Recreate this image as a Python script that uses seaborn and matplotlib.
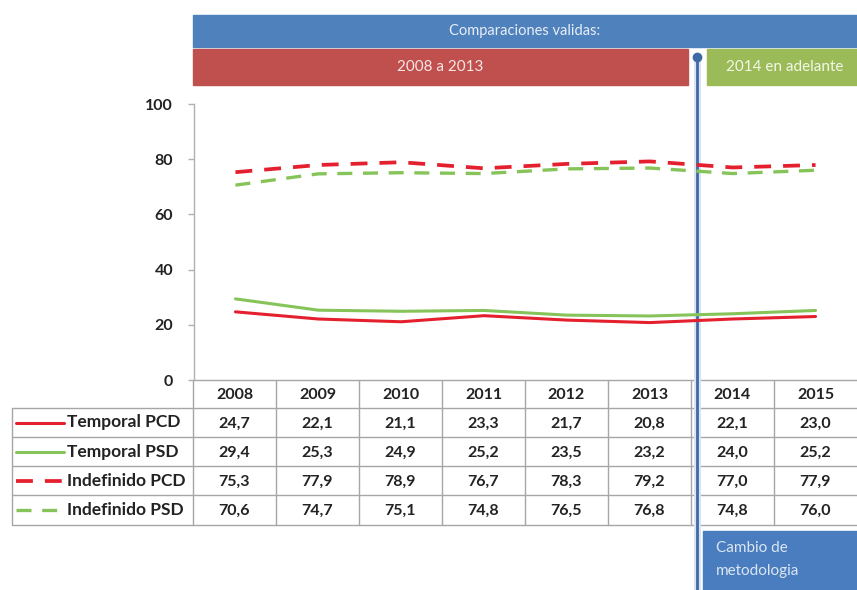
import numpy as np
import pandas as pd
import matplotlib
matplotlib.use("Agg")
import matplotlib.pyplot as plt
import seaborn as sns
from matplotlib.patches import Rectangle
from matplotlib.lines import Line2D

# ---- data ----
years = ["2008", "2009", "2010", "2011", "2012", "2013", "2014", "2015"]
series_names = ["Temporal PCD", "Temporal PSD", "Indefinido PCD", "Indefinido PSD"]
temporal_pcd = [24.7, 22.1, 21.1, 23.3, 21.7, 20.8, 22.1, 23.0]
temporal_psd = [29.4, 25.3, 24.9, 25.2, 23.5, 23.2, 24.0, 25.2]
indefinido_pcd = [75.3, 77.9, 78.9, 76.7, 78.3, 79.2, 77.0, 77.9]
indefinido_psd = [70.6, 74.7, 75.1, 74.8, 76.5, 76.8, 74.8, 76.0]
y_ticks = [0, 20, 40, 60, 80, 100]
banner_top = "Comparaciones validas:"
banner_left = "2008 a 2013"
banner_right = "2014 en adelante"
note_text = "Cambio de\nmetodologia"

values = [temporal_pcd, temporal_psd, indefinido_pcd, indefinido_psd]
df = pd.DataFrame({
    "pos": np.tile(np.arange(len(years)), len(series_names)),
    "value": np.concatenate(values),
    "serie": np.repeat(series_names, len(years)),
})

RED = "#e5202e"
GREEN = "#86c45a"
palette = {"Temporal PCD": RED, "Temporal PSD": GREEN,
           "Indefinido PCD": RED, "Indefinido PSD": GREEN}
dashes = {"Temporal PCD": "", "Temporal PSD": "",
          "Indefinido PCD": (4.5, 3.2), "Indefinido PSD": (4.5, 3.2)}
widths = {"Temporal PCD": 2.2, "Temporal PSD": 2.2,
          "Indefinido PCD": 2.7, "Indefinido PSD": 2.4}

sns.set_theme(style="white")
plt.rcParams["font.family"] = ["Lato", "DejaVu Sans"]

W, H = 857, 590
fig = plt.figure(figsize=(W / 100, H / 100), dpi=100)

# overlay axes in pixel coordinates for decorations
ov = fig.add_axes([0, 0, 1, 1], zorder=0)
ov.set_xlim(0, W)
ov.set_ylim(H, 0)
ov.axis("off")

# plot axes
x0, x1 = 194, 857
ytop, ybot = 104, 380
ax = fig.add_axes([x0 / W, (H - ybot) / H, (x1 - x0) / W, (ybot - ytop) / H], zorder=2)
ax.patch.set_alpha(0)
sns.lineplot(data=df, x="pos", y="value", hue="serie", style="serie",
             palette=palette, dashes=dashes, ax=ax, legend=False,
             hue_order=series_names, style_order=series_names)
for line, name in zip(ax.get_lines(), series_names):
    line.set_linewidth(widths[name])
ax.set_xlim(-0.5, len(years) - 0.5)
ax.set_ylim(0, 100)
ax.set_yticks(y_ticks)
ax.set_yticklabels([str(t) for t in y_ticks], fontsize=11.5, fontweight="bold", color="#222222")
ax.set_xticks([])
ax.set_xlabel("")
ax.set_ylabel("")
for s in ["top", "right", "bottom"]:
    ax.spines[s].set_visible(False)
ax.spines["left"].set_color("#b0b0b0")
ax.spines["left"].set_linewidth(1)
ax.tick_params(axis="y", which="both", left=True, length=4, width=1, color="#b0b0b0", pad=11)

# ---- banners ----
BLUE = "#4f81bd"
ov.add_patch(Rectangle((193, 15), W - 193, 32, color=BLUE, zorder=1))
ov.text((193 + W) / 2, 31, banner_top, color="#e8eef7", ha="center", va="center", fontsize=10.5)
ov.add_patch(Rectangle((193, 49), 495, 36, color="#c0504d", zorder=1))
ov.text(193 + 495 / 2, 67, banner_left, color="#f5e6e6", ha="center", va="center", fontsize=11)
ov.add_patch(Rectangle((707, 49), W - 707, 36, color="#9bbb59", zorder=1))
ov.text(785, 67, banner_right, color="#f2f7e8", ha="center", va="center", fontsize=11)

# ---- table ----
ncol = len(years)
cw = (x1 - 193) / ncol
row_top = 380
row_h = [28, 29, 29, 29, 30]
edges = np.concatenate([[row_top], row_top + np.cumsum(row_h)])
GRID = "#a6a6a6"
ov.plot([193, W], [edges[0], edges[0]], color=GRID, lw=1, zorder=3)
for e in edges[1:]:
    ov.plot([12, W], [e, e], color=GRID, lw=1, zorder=3)
for i in range(ncol):
    xx = 193 + i * cw
    ov.plot([xx, xx], [edges[0], edges[-1]], color=GRID, lw=1, zorder=3)
ov.plot([12, 12], [edges[1], edges[-1]], color=GRID, lw=1, zorder=3)

for i, yr in enumerate(years):
    ov.text(193 + (i + 0.5) * cw, (edges[0] + edges[1]) / 2 + 1, yr, ha="center", va="center",
            fontsize=11.5, fontweight="bold", color="#222222", zorder=4)

for r, (name, vals) in enumerate(zip(series_names, values)):
    yc = (edges[r + 1] + edges[r + 2]) / 2
    ls = "-" if dashes[name] == "" else (0, (4.5, 3.2))
    ov.add_line(Line2D([16, 64], [yc, yc], color=palette[name], lw=widths[name], linestyle=ls, zorder=4))
    ov.text(67, yc, name, ha="left", va="center", fontsize=12.5, fontweight="bold", color="#222222", zorder=4)
    for i, v in enumerate(vals):
        ov.text(193 + (i + 0.5) * cw, yc + 1, f"{v:.1f}".replace(".", ","), ha="center", va="center",
                fontsize=11.5, fontweight="bold", color="#222222", zorder=4)

# ---- method change line and note ----
VX = 697
ov.add_patch(Rectangle((703, 531), W - 703, H - 531, color="#4a7dbf", zorder=5))
ov.text(716, 541, note_text, ha="left", va="top", color="#dce6f2", fontsize=11,
        linespacing=1.85, zorder=6)
ov.plot([VX, VX], [57, H], color="#d8e4f2", lw=5, zorder=6, solid_capstyle="butt")
ov.plot([VX, VX], [57, H], color="#3f6aa6", lw=2, zorder=7, solid_capstyle="butt")
ov.plot([VX], [57], marker="o", ms=6, color="#3f6aa6", zorder=8)

fig.savefig("out.png", dpi=100)
